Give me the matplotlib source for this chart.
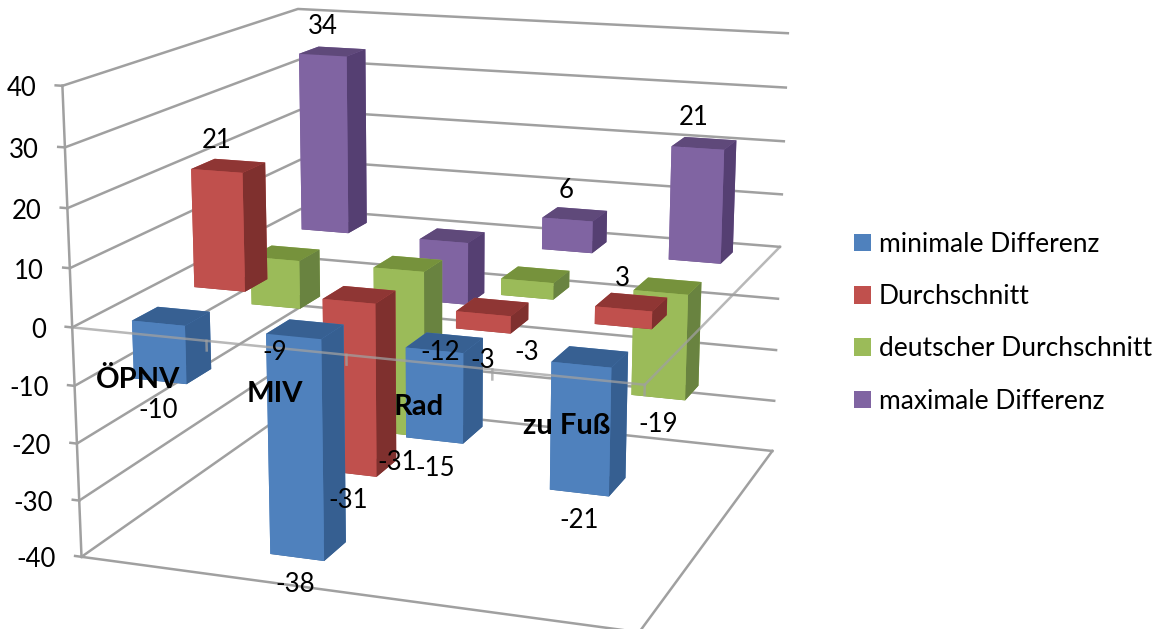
import numpy as np
from matplotlib import pyplot as plt
from matplotlib.patches import Patch
from mpl_toolkits.mplot3d import Axes3D  # noqa: F401

plt.rcParams['font.family'] = ['Lato', 'DejaVu Sans']

# the data
categories = ['ÖPNV', 'MIV', 'Rad', 'zu Fuß']
series_names = ['minimale Differenz', 'Durchschnitt',
                'deutscher Durchschnitt', 'maximale Differenz']
minimale_differenz = [-10, -38, -15, -21]
durchschnitt = [21, -31, -3, 3]
deutscher_durchschnitt = [-9, -31, -3, -19]
maximale_differenz = [34, -12, 6, 21]
all_series = [minimale_differenz, durchschnitt,
              deutscher_durchschnitt, maximale_differenz]
value_ticks = [40, 30, 20, 10, 0, -10, -20, -30, -40]

# face colours of each series: front, side, top
front_colors = ['#4f81bd', '#c0504d', '#9bbb59', '#8064a2']
side_colors = ['#365f91', '#7f302e', '#698340', '#553f72']
top_colors = ['#376092', '#8f3634', '#76923c', '#5f497a']
grid_color = '#a0a0a0'

# figure size in pixels
width = 1168
height = 629

# where the data labels sit, in pixels (one row per series)
label_x = [[158, 295, 435, 579],
           [217, 348, 483, 622],
           [275, 397, 527, 658],
           [323, 440, 566, 694]]
label_y = [[410, 585, 468, 520],
           [140, 501, 360, 278],
           [352, 462, 352, 425],
           [26, 352, 190, 117]]
category_x = [138, 275, 419, 567]
category_y = [380, 394, 407, 426]

# camera: world corners of the chart box and where they land on the canvas
world_points = np.array([
    [0, 0, 40], [0, 0, 0], [0, 0, -40], [0, 4, 40], [4, 4, 40],
    [4, 4, 0], [4, 4, -40], [4, 0, 0], [4, 0, -40]], dtype=float)
canvas_points = np.array([
    [62, 86], [73, 327], [81, 557], [298, 9], [788, 33],
    [780, 247], [772, 451], [644, 385], [640, 632]], dtype=float)


def fit_camera(world, canvas):
    # direct linear transform, gives a 3x4 projection matrix
    rows = []
    for (x, y, z), (u, v) in zip(world, canvas):
        v = height - v
        rows.append([x, y, z, 1, 0, 0, 0, 0, -u*x, -u*y, -u*z, -u])
        rows.append([0, 0, 0, 0, x, y, z, 1, -v*x, -v*y, -v*z, -v])
    p = np.linalg.svd(np.array(rows))[2][-1].reshape(3, 4)
    # w is about 1 in the middle of the box
    return p / (p[2] @ np.array([2, 2, 0, 1]))


camera = fit_camera(world_points, canvas_points)
projection = np.vstack([camera[0], camera[1],
                        camera[2] - [0, 0, 0, 1], camera[2]])

fig = plt.figure(figsize=(width/100, height/100), dpi=100)
# 3d axes are always square, so this one is a canvas-wide square
ax = fig.add_axes([0, 0, 1, width/height], projection='3d',
                  computed_zorder=False)
ax.set_axis_off()
ax.patch.set_visible(False)
# ortho only switches off the line clipping, the camera is set by get_proj
ax.set_proj_type('ortho')
ax.get_proj = lambda: projection


def line(xs, ys, zs, zorder=1, alpha=1.0):
    ax.plot(xs, ys, zs, color=grid_color, lw=1.8, zorder=zorder, alpha=alpha,
            solid_capstyle='projecting')


def canvas_position(x, y, z):
    u, v, w = camera @ np.array([x, y, z, 1])
    return u/w, v/w


# walls
for v in value_ticks:
    line([0, 0, 4], [0, 4, 4], [v, v, v])
    line([-0.05, 0], [0, 0], [v, v])
line([0, 0], [0, 0], [-40, 40])
line([0, 4, 4], [0, 0, 4], [-40, -40, -40])

# bars, back row first and left to right inside a row
bar_width = 0.4
bar_depth = 0.4
for s in range(3, -1, -1):
    for c in range(4):
        faces = [top_colors[s], top_colors[s], front_colors[s],
                 front_colors[s], front_colors[s], side_colors[s]]
        ax.bar3d(c + 0.5 - bar_width/2, s + 0.5 - bar_depth/2, 0,
                 bar_width, bar_depth, all_series[s][c],
                 color=faces, shade=False, zorder=10 + (3 - s)*10 + c,
                 linewidth=0)

# category axis runs over the bars
line([0, 4, 4], [0, 0, 4], [0, 0, 0], zorder=60, alpha=0.75)
for c in range(1, 5):
    line([c, c], [0, 0], [0, -1.6], zorder=60, alpha=0.75)

# value axis labels
for v in value_ticks:
    u, w = canvas_position(0, 0, v)
    fig.text((u - 26)/width, (w - 3)/height, str(v), ha='right', va='center',
             fontsize=18.5, color='black', zorder=70)

# data labels
for s in range(4):
    for c in range(4):
        fig.text(label_x[s][c]/width, 1 - label_y[s][c]/height,
                 str(all_series[s][c]), ha='center', va='center',
                 fontsize=18.5, color='black', zorder=70)

# category labels
for c in range(4):
    fig.text(category_x[c]/width, 1 - category_y[c]/height, categories[c],
             ha='center', va='center', fontsize=21, fontweight='bold',
             color='black', zorder=71)

handles = [Patch(color=front_colors[s], lw=0) for s in range(4)]
fig.legend(handles, series_names, loc='upper left',
           bbox_to_anchor=(854/width, 1 - 232/height), frameon=False,
           fontsize=19, handlelength=0.64, handleheight=0.64,
           handletextpad=0.3, labelspacing=1.03, borderpad=0, borderaxespad=0,
           labelcolor='black')

ax.viewLim.intervalx = (0, width)
ax.viewLim.intervaly = (0, width)
fig.savefig('out.png', dpi=100)
